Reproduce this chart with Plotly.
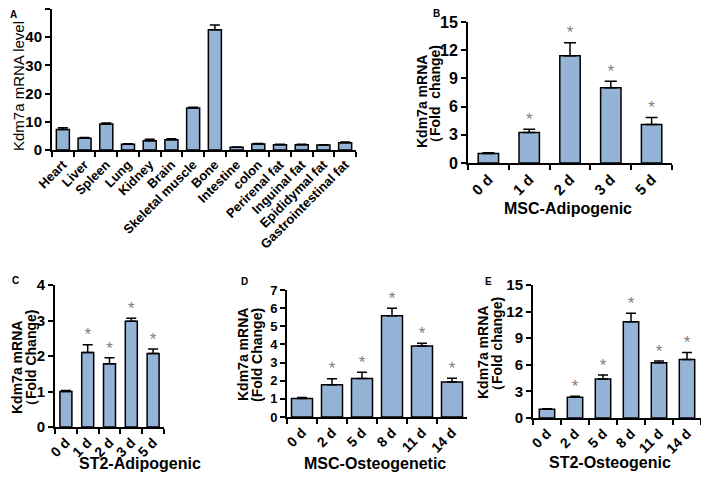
import plotly.graph_objects as go

W, H = 709, 480
OFF = 8  # default page body margin around the plot div
FW, FH = W - 2 * OFF, H - 2 * OFF

# ---- data ----
tissues = ['Heart', 'Liver', 'Spleen', 'Lung', 'Kidney', 'Brain', 'Skeletal muscle', 'Bone',
           'Intestine', 'colon', 'Perirenal fat', 'Inguinal fat', 'Epididymal fat', 'Gastrointestinal fat']
tissue_level = [7.3, 4.2, 9.2, 2.0, 3.3, 3.6, 14.9, 42.6, 1.0, 2.1, 1.9, 1.9, 1.8, 2.6]
tissue_err = [0.6, 0.2, 0.4, 0.2, 0.5, 0.4, 0.3, 1.7, 0.1, 0.2, 0.1, 0.1, 0.1, 0.2]

msc_adipo_days = ['0 d', '1 d', '2 d', '3 d', '5 d']
msc_adipo_fold = [1.0, 3.25, 11.4, 8.0, 4.1]
msc_adipo_err = [0.1, 0.35, 1.4, 0.7, 0.75]
msc_adipo_sig = ['', '*', '*', '*', '*']

st2_adipo_days = ['0 d', '1 d', '2 d', '3 d', '5 d']
st2_adipo_fold = [1.0, 2.1, 1.78, 2.98, 2.07]
st2_adipo_err = [0.03, 0.22, 0.17, 0.08, 0.13]
st2_adipo_sig = ['', '*', '*', '*', '*']

msc_osteo_days = ['0 d', '2 d', '5 d', '8 d', '11 d', '14 d']
msc_osteo_fold = [1.02, 1.78, 2.12, 5.58, 3.92, 1.93]
msc_osteo_err = [0.05, 0.33, 0.35, 0.42, 0.15, 0.2]
msc_osteo_sig = ['', '*', '*', '*', '*', '*']

st2_osteo_days = ['0 d', '2 d', '5 d', '8 d', '11 d', '14 d']
st2_osteo_fold = [1.0, 2.35, 4.4, 10.85, 6.22, 6.6]
st2_osteo_err = [0.05, 0.1, 0.45, 0.95, 0.2, 0.8]
st2_osteo_sig = ['', '*', '*', '*', '*', '*']

FONT = 'Liberation Sans, Arial, sans-serif'
BAR = '#95B3D7'


# screen pixel -> paper fraction
def fx(p):
    return (p - OFF) / FW


def fy(p):
    return 1 - (p - OFF) / FH


def clamp(v):
    return min(1.0, max(0.0, v))


fig = go.Figure()


def panel(i, cats, vals, errs, sig, xdom, ydom, yrange, dtick, barw, capw, xfs, yfs):
    xa = 'x' if i == 1 else 'x%d' % i
    ya = 'y' if i == 1 else 'y%d' % i
    fig.add_trace(go.Bar(
        x=cats, y=vals, xaxis=xa, yaxis=ya, width=[barw] * len(cats),
        marker=dict(color=BAR, line=dict(color='black', width=1.5)),
        error_y=dict(type='data', array=errs, arrayminus=[0] * len(errs), symmetric=False,
                     color='black', thickness=1.5, width=capw),
        showlegend=False, hoverinfo='x+y'))
    if sig is not None:
        fig.add_trace(go.Scatter(
            x=cats, y=[v + e for v, e in zip(vals, errs)], xaxis=xa, yaxis=ya,
            mode='text', text=sig, textposition='top center',
            textfont=dict(family=FONT, size=17, color='#808080'),
            showlegend=False, hoverinfo='skip', cliponaxis=False))
    key = '' if i == 1 else str(i)
    fig.layout['xaxis' + key] = dict(
        domain=[clamp(fx(xdom[0])), clamp(fx(xdom[1]))], anchor=ya, type='category',
        automargin=False,
        showline=True, linecolor='black', linewidth=2, ticks='outside', tickson='boundaries',
        ticklen=5, tickwidth=2, tickcolor='black', tickangle=-45,
        tickfont=dict(family=FONT, size=xfs, color='black', weight='bold'),
        showgrid=False, zeroline=False, fixedrange=True)
    fig.layout['yaxis' + key] = dict(
        domain=[clamp(fy(ydom[0])), clamp(fy(ydom[1]))], anchor=xa, range=yrange, dtick=dtick,
        automargin=False,
        showline=True, linecolor='black', linewidth=2, ticks='outside', ticklen=5,
        tickwidth=2, tickcolor='black',
        tickfont=dict(family=FONT, size=yfs, color='black', weight='bold'),
        showgrid=False, zeroline=False, fixedrange=True)


panel(1, tissues, tissue_level, tissue_err, None, (52, 356), (150, 9), [0, 50], 10, 0.6, 5, 13, 15)
panel(2, msc_adipo_days, msc_adipo_fold, msc_adipo_err, msc_adipo_sig, (468, 672), (163, 22), [0, 15], 3, 0.5, 6, 15, 16)
panel(3, st2_adipo_days, st2_adipo_fold, st2_adipo_err, st2_adipo_sig, (55, 164), (427, 285), [0, 4], 1, 0.55, 5, 14, 15)
panel(4, msc_osteo_days, msc_osteo_fold, msc_osteo_err, msc_osteo_sig, (287, 467), (417, 290), [0, 7], 1, 0.7, 5, 14, 13)
panel(5, st2_osteo_days, st2_osteo_fold, st2_osteo_err, st2_osteo_sig, (533, 701), (418, 285), [0, 15], 3, 0.55, 5, 14, 15)


def note(text, x, y, size=16, angle=0, bold=True):
    fig.add_annotation(text=text, x=fx(x), y=fy(y), xref='paper', yref='paper',
                       showarrow=False, textangle=angle, xanchor='center', yanchor='middle',
                       font=dict(family=FONT, size=size, color='black',
                                 weight='bold' if bold else 'normal'))


# panel letters
note('A', 13, 14, size=10)
note('B', 436, 13, size=10)
note('C', 15, 280, size=10)
note('D', 244, 281, size=10)
note('E', 488, 281, size=10)

# y-axis titles (one annotation per line)
note('Kdm7a mRNA level', 18, 86, size=15, angle=-90, bold=False)
note('Kdm7a mRNA', 422, 102, size=14, angle=-90)
note('（Fold  change)', 435, 98, size=14, angle=-90)
note('Kdm7a mRNA', 17, 368, size=14, angle=-90)
note('（Fold Change)', 31, 362, size=14, angle=-90)
note('Kdm7a mRNA', 243, 355, size=14, angle=-90)
note('(Fold Change)', 257, 355, size=14, angle=-90)
note('Kdm7a mRNA', 483, 352, size=14, angle=-90)
note('（Fold change)', 497, 348, size=14, angle=-90)

# x-axis titles
note('MSC-Adipogenic', 568, 208, size=16)
note('ST2-Adipogenic', 140, 463, size=16)
note('MSC-Osteogenetic', 375, 463, size=16)
note('ST2-Osteogenic', 610, 462, size=16)

fig.update_layout(width=FW, height=FH, margin=dict(l=0, r=0, t=0, b=0),
                  plot_bgcolor='white', paper_bgcolor='white',
                  font=dict(family=FONT, color='black'))
fig.write_html("out.html")
